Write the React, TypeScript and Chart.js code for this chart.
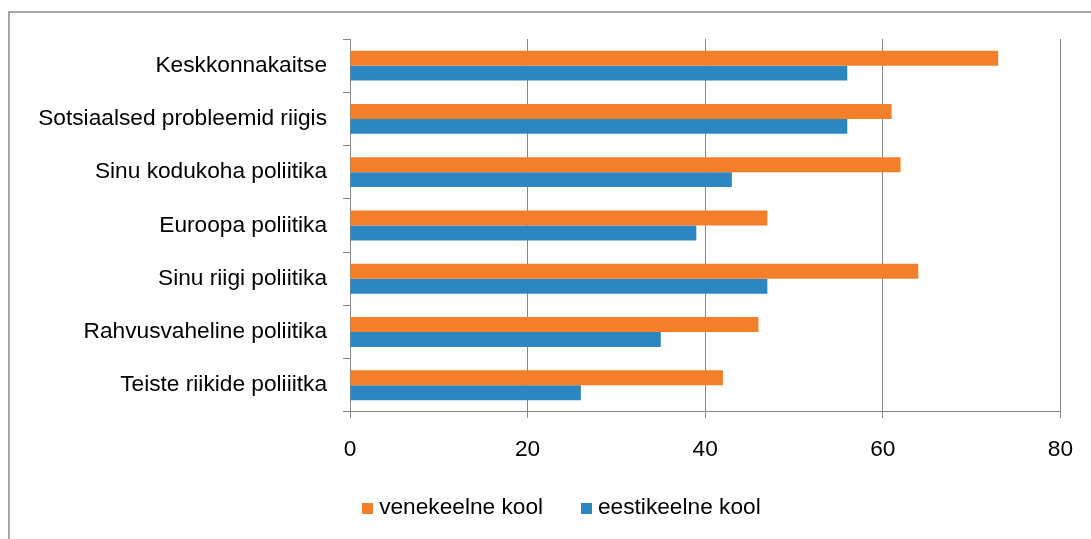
import React, { useEffect, useRef } from "react";
import { Chart, registerables } from "chart.js";

Chart.register(...registerables);

const categories = [
  "Keskkonnakaitse",
  "Sotsiaalsed probleemid riigis",
  "Sinu kodukoha poliitika",
  "Euroopa poliitika",
  "Sinu riigi poliitika",
  "Rahvusvaheline poliitika",
  "Teiste riikide poliiitka",
];
const seriesNames = ["venekeelne kool", "eestikeelne kool"];
const venekeelne = [73, 61, 62, 47, 64, 46, 42];
const eestikeelne = [56, 56, 43, 39, 47, 35, 26];
const xTicks = [0, 20, 40, 60, 80];
const colors = ["#F47F2A", "#2C86C2"];

const FONT = "'Liberation Sans', Arial, sans-serif";
const FS = 22.7;

const shiftLegend = {
  id: "shiftLegend",
  afterLayout(chart: any) {
    const l = chart.legend;
    if (l) {
      l.left += 32;
      l.right += 32;
      l.top -= 9.65;
      l.bottom -= 9.65;
    }
  },
};

function marker(color: string) {
  const c = document.createElement("canvas");
  c.width = 11;
  c.height = 11;
  const g = c.getContext("2d")!;
  g.fillStyle = color;
  g.fillRect(0, 0, 11, 11);
  return c;
}

export default function App() {
  const ref = useRef<HTMLCanvasElement | null>(null);
  useEffect(() => {
    if (!ref.current) return;
    const markers = colors.map(marker);
    const chart = new Chart(ref.current, {
      type: "bar",
      data: {
        labels: categories,
        datasets: [
          {
            label: seriesNames[0],
            data: venekeelne,
            backgroundColor: colors[0],
            borderWidth: 0,
            categoryPercentage: 0.5625,
            barPercentage: 1,
          },
          {
            label: seriesNames[1],
            data: eestikeelne,
            backgroundColor: colors[1],
            borderWidth: 0,
            categoryPercentage: 0.5625,
            barPercentage: 1,
          },
        ],
      },
      plugins: [shiftLegend],
      options: {
        indexAxis: "y",
        responsive: false,
        animation: false,
        devicePixelRatio: 1,
        layout: { padding: { left: 0, right: 27, top: 39, bottom: 0 } },
        plugins: {
          tooltip: { enabled: false },
          legend: {
            position: "bottom",
            labels: {
              usePointStyle: true,
              pointStyleWidth: 0.5,
              boxWidth: 11,
              boxHeight: 11,
              padding: 43,
              color: "#000",
              font: { family: FONT, size: FS },
              generateLabels: (ch: any) =>
                Chart.defaults.plugins.legend.labels
                  .generateLabels(ch)
                  .map((it: any) => ({ ...it, pointStyle: markers[it.datasetIndex] })),
            },
          },
        },
        scales: {
          x: {
            min: 0,
            max: 80,
            afterBuildTicks: (s: any) => {
              s.ticks = xTicks.map((v) => ({ value: v }));
            },
            afterFit: (s: any) => {
              s.height = 51.5;
            },
            ticks: {
              color: "#000",
              padding: 18,
              font: { family: FONT, size: FS },
            },
            grid: {
              color: "#868686",
              lineWidth: 1,
              tickLength: 6,
              drawOnChartArea: true,
            },
            border: { color: "#868686", width: 1 },
          },
          y: {
            afterFit: (s: any) => {
              s.width = 350;
            },
            ticks: {
              color: "#000",
              padding: 16,
              font: { family: FONT, size: FS },
            },
            grid: {
              color: "#868686",
              lineWidth: 1,
              tickLength: 7,
              drawOnChartArea: false,
              offset: true,
            },
            border: { color: "#868686", width: 1 },
          },
        },
      },
    });
    return () => chart.destroy();
  }, []);

  return (
    <>
      <div
        style={{
          position: "absolute",
          left: 8,
          top: 11,
          width: 1083,
          height: 528,
          boxSizing: "border-box",
          borderTop: "2px solid #a6a6a6",
          borderLeft: "2px solid #a6a6a6",
        }}
      />
      <canvas
        ref={ref}
        width={1091}
        height={539}
        style={{ position: "absolute", left: 0, top: 0, width: 1091, height: 539 }}
      />
    </>
  );
}
